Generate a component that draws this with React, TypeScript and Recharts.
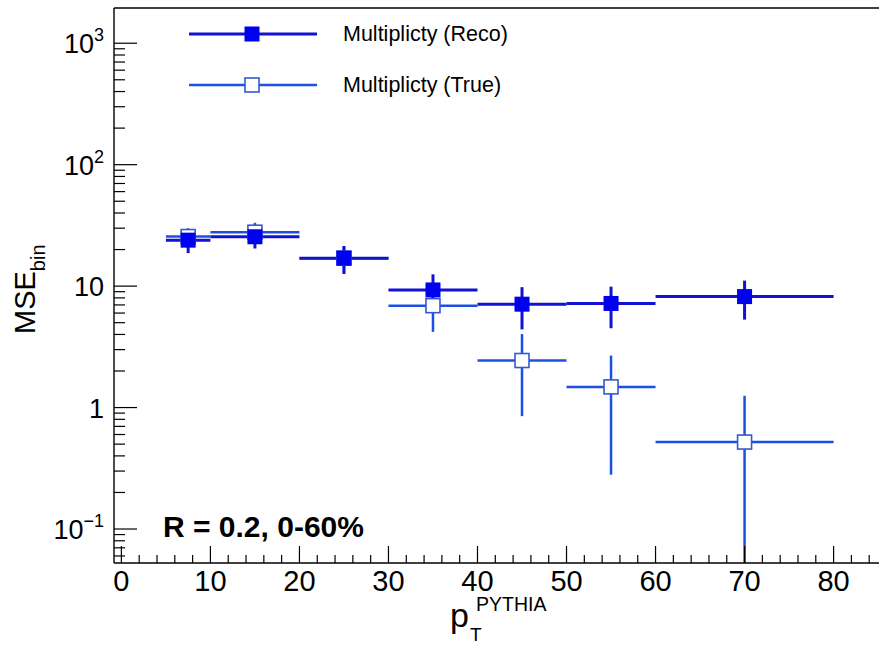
import { ComposedChart, Scatter, XAxis, YAxis, ErrorBar, ReferenceLine, Customized } from 'recharts'

// bins of p_T (GeV/c), centres and half widths
const binCenters = [7.5, 15, 25, 35, 45, 55, 70]
const binHalfWidths = [2.5, 5, 5, 5, 5, 5, 10]

// MSE per bin
const recoMse = [23.9, 25.5, 17.0, 9.3, 7.1, 7.2, 8.2]
const recoErr = [5.2, 5.1, 4.4, 3.2, 2.7, 2.7, 2.9]
const trueMse = [25.6, 27.8, 17.0, 6.9, 2.44, 1.48, 0.52]
const trueErr = [4.4, 5.4, 4.3, 2.7, 1.59, 1.2, 0.73]

const xMajorTicks = [0, 10, 20, 30, 40, 50, 60, 70, 80]
const xMinorTicks = [2, 4, 6, 8, 12, 14, 16, 18, 22, 24, 26, 28, 32, 34, 36, 38, 42, 44, 46, 48, 52, 54, 56, 58, 62, 64, 66, 68, 72, 74, 76, 78, 82, 84]
const yMajorTicks = [0.1, 1, 10, 100, 1000]
const yMajorLabels = [['10', '\u22121'], ['1', ''], ['10', ''], ['10', '2'], ['10', '3']]
const yMinorMult = [2, 3, 4, 5, 6, 7, 8, 9]

const xDomain = [-0.83, 85.1]
const yDomain = [0.0525, 1950]

const RECO_LINE = '#1212d2'
const RECO_MARK = '#0000f0'
const TRUE_LINE = '#1c50e2'
const TRUE_MARK = '#3559d0'
const FONT = '"Liberation Sans", Arial, Helvetica, sans-serif'

// error bars on a log axis: stop the lower arm at the bottom of the frame
const toRows = (vals: number[], errs: number[]) =>
  binCenters.map((x, i) => ({
    x,
    y: vals[i],
    ex: binHalfWidths[i],
    ey: [Math.min(errs[i], vals[i] - yDomain[0]), errs[i]],
  }))

const recoRows = toRows(recoMse, recoErr)
const trueRows = toRows(trueMse, trueErr)

const yTicks = [0.06, 0.07, 0.08, 0.09]
  .concat(...[0.1, 1, 10, 100].map(d => [d, ...yMinorMult.map(m => d * m)]))
  .concat([1000])

const xTicks = [...xMajorTicks, ...xMinorTicks].sort((a, b) => a - b)

const XTick = (props: any) => {
  const { x, y, payload } = props
  const major = xMajorTicks.includes(payload.value)
  return (
    <g>
      <line x1={x} x2={x} y1={y} y2={y - (major ? 17 : 8)} stroke="#000" strokeWidth={1.2} />
      {major && (
        <text x={x} y={y + 28} textAnchor="middle" fontSize={29} fontFamily={FONT} fill="#000">
          {payload.value}
        </text>
      )}
    </g>
  )
}

const YTick = (props: any) => {
  const { x, y, payload } = props
  const idx = yMajorTicks.findIndex(t => Math.abs(Math.log10(t) - Math.log10(payload.value)) < 1e-6)
  const major = idx >= 0
  const label = major ? yMajorLabels[idx] : null
  return (
    <g>
      <line x1={x} x2={x + (major ? 23 : 11)} y1={y} y2={y} stroke="#000" strokeWidth={1.2} />
      {label && (
        <text x={x - 10} y={y + 10} textAnchor="end" fontSize={27} fontFamily={FONT} fill="#000">
          {label[0]}
          {label[1] && <tspan dy={-12} fontSize={18}>{label[1]}</tspan>}
        </text>
      )}
    </g>
  )
}

const FilledSquare = (props: any) => (
  <rect x={props.cx - 7.5} y={props.cy - 7.5} width={15} height={15} fill={RECO_MARK} />
)
const OpenSquare = (props: any) => (
  <rect x={props.cx - 7} y={props.cy - 7} width={14} height={14} fill="#fff" stroke={TRUE_MARK} strokeWidth={1.6} />
)

const Decorations = () => (
  <g fontFamily={FONT} fill="#000">
    {/* legend */}
    <line x1={189} x2={317} y1={34} y2={34} stroke={RECO_LINE} strokeWidth={3} />
    <rect x={244.5} y={26.5} width={15} height={15} fill={RECO_MARK} />
    <text x={343} y={41} fontSize={21.5}>Multiplicty (Reco)</text>
    <line x1={189} x2={317} y1={85} y2={85} stroke={TRUE_LINE} strokeWidth={2.5} />
    <rect x={245} y={78} width={14} height={14} fill="#fff" stroke={TRUE_MARK} strokeWidth={1.6} />
    <text x={343} y={92} fontSize={21.5}>Multiplicty (True)</text>
    {/* annotation */}
    <text x={163} y={537} fontSize={30} fontWeight="bold">R = 0.2, 0-60%</text>
    {/* x title */}
    <text x={450} y={627} fontSize={34}>p</text>
    <text x={470} y={641} fontSize={19}>T</text>
    <text x={476} y={611} fontSize={19.5}>PYTHIA</text>
    {/* y title */}
    <text transform="translate(35,334) rotate(-90)" fontSize={29}>
      MSE<tspan dy={10} fontSize={20}>bin</tspan>
    </text>
  </g>
)

export default function App() {
  return (
    <div style={{ position: 'absolute', left: 0, top: 0, background: '#fff' }}>
      <ComposedChart width={879} height={645} margin={{ top: 8, right: 0, bottom: 0, left: 0 }}>
        <XAxis
          dataKey="x"
          type="number"
          domain={xDomain}
          allowDataOverflow
          ticks={xTicks}
          interval={0}
          tickSize={0}
          tickMargin={0}
          tickLine={false}
          tick={<XTick />}
          height={82}
          axisLine={{ stroke: '#000', strokeWidth: 1.4 }}
        />
        <YAxis
          dataKey="y"
          type="number"
          scale="log"
          domain={yDomain}
          allowDataOverflow
          ticks={yTicks}
          interval={0}
          tickSize={0}
          tickMargin={0}
          tickLine={false}
          tick={<YTick />}
          width={114}
          axisLine={{ stroke: '#000', strokeWidth: 1.4 }}
        />
        <ReferenceLine y={yDomain[1]} stroke="#000" strokeWidth={1.6} />
        <Scatter data={trueRows} dataKey="y" shape={<OpenSquare />} isAnimationActive={false}>
          <ErrorBar dataKey="ex" direction="x" width={0} stroke={TRUE_LINE} strokeWidth={2.5} />
          <ErrorBar dataKey="ey" direction="y" width={0} stroke={TRUE_LINE} strokeWidth={2.5} />
        </Scatter>
        <Scatter data={recoRows} dataKey="y" shape={<FilledSquare />} isAnimationActive={false}>
          <ErrorBar dataKey="ex" direction="x" width={0} stroke={RECO_LINE} strokeWidth={3} />
          <ErrorBar dataKey="ey" direction="y" width={0} stroke={RECO_LINE} strokeWidth={3} />
        </Scatter>
        <Customized component={<Decorations />} />
      </ComposedChart>
    </div>
  )
}
